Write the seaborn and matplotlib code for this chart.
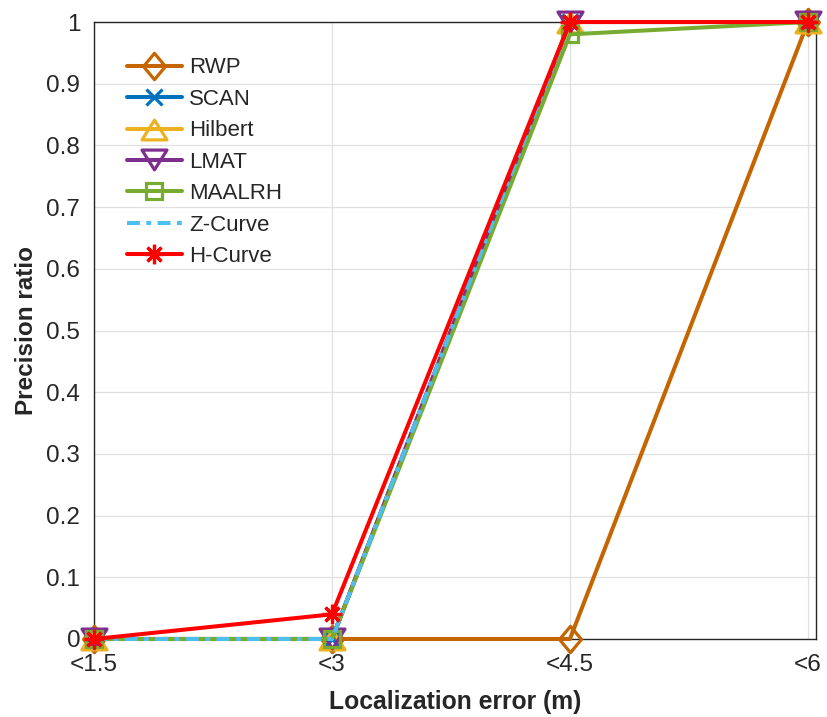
import matplotlib
matplotlib.use("Agg")
import matplotlib.pyplot as plt
from matplotlib.path import Path
import seaborn as sns
import pandas as pd

categories = ["<1.5", "<3", "<4.5", "<6"]
rwp = [0, 0, 0, 1]
scan = [0, 0, 1, 1]
hilbert = [0, 0, 1, 1]
lmat = [0, 0, 1, 1]
maalrh = [0, 0, 0.98, 1]
zcurve = [0, 0, 1, 1]
hcurve = [0, 0.04, 1, 1]

# MATLAB-style marker shapes: tall diamond and wide triangles
diamond = Path([(0, 1), (0.83, 0), (0, -1), (-0.83, 0), (0, 1)], closed=True)
tri_up = Path([(0, 0.9), (1.2, -1), (-1.2, -1), (0, 0.9)], closed=True)
tri_down = Path([(0, -0.9), (1.2, 1), (-1.2, 1), (0, -0.9)], closed=True)

series = [
    ("RWP", rwp, "#C46500", diamond, 19, "-"),
    ("SCAN", scan, "#0072BD", "x", 11, "-"),
    ("Hilbert", hilbert, "#EDB120", tri_up, 18, "-"),
    ("LMAT", lmat, "#7E2F8E", tri_down, 18, "-"),
    ("MAALRH", maalrh, "#77AC30", "s", 12, "-"),
    ("Z-Curve", zcurve, "#4DBEEE", None, 0, (0, (3.2, 1.6, 1.2, 1.6))),
    ("H-Curve", hcurve, "#FF0000", (8, 2, 0), 14, "-"),
]

sns.set_style("white")
plt.rcParams["font.family"] = ["Liberation Sans", "DejaVu Sans"]

fig = plt.figure(figsize=(8.27, 7.17), dpi=100)
ax = fig.add_axes([0.1137, 0.1088, 0.8730, 0.8605])

xpos = list(range(len(categories)))
for name, vals, color, marker, ms, ls in series:
    df = pd.DataFrame({"x": xpos, "y": vals})
    kw = dict(marker=marker, markersize=ms, markerfacecolor="none",
              markeredgecolor=color, markeredgewidth=2.3) if marker is not None else {}
    sns.lineplot(data=df, x="x", y="y", ax=ax, color=color, linewidth=2.9,
                 linestyle=ls, label=name, clip_on=False, zorder=3, **kw)

ax.set_xlim(0, 3.034)
ax.set_ylim(0, 1)
ax.set_xticks(xpos)
ax.set_xticklabels(categories)
yt = [i / 10 for i in range(11)]
ax.set_yticks(yt)
ax.set_yticklabels(["0"] + [f"{v:.1f}" for v in yt[1:-1]] + ["1"])
ax.tick_params(axis="both", labelsize=17.5, direction="in", length=6,
               width=1, colors="#262626")
ax.tick_params(axis="y", pad=10)
ax.tick_params(axis="x", pad=11)
ax.grid(True, color="#e0e0e0", linewidth=0.9)
ax.set_axisbelow(True)
for s in ax.spines.values():
    s.set_color("#262626")
    s.set_linewidth(1)

ax.set_xlabel("Localization error (m)", fontsize=17.8, fontweight="bold", labelpad=10)
ax.set_ylabel("Precision ratio", fontsize=17.5, fontweight="bold", labelpad=6)

leg = ax.legend(loc="upper left", bbox_to_anchor=(0.0097, 0.984), frameon=False,
                fontsize=16, handlelength=2.5, labelspacing=0.47, handletextpad=0.32,
                borderaxespad=0.75)

fig.savefig("out.png", dpi=100)
